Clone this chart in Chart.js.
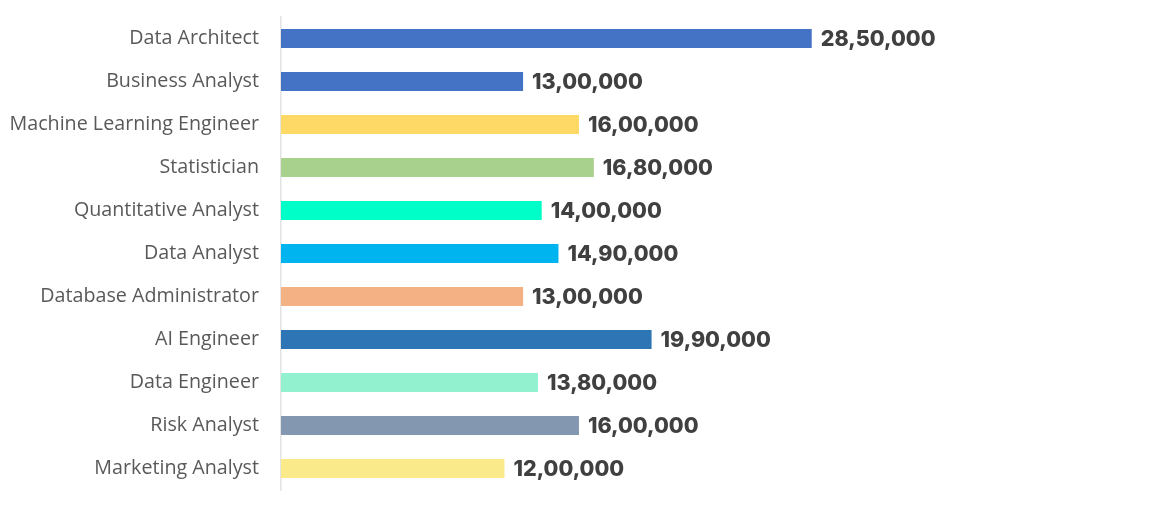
<!DOCTYPE html>
<html>
<head>
<meta charset="utf-8">
<script src="https://cdn.jsdelivr.net/npm/chart.js@4"></script>
<style>
html,body{margin:0;padding:0;background:#fff;}
#wrap{width:1170px;height:508px;position:relative;}
</style>
</head>
<body>
<div id="wrap"><canvas id="c" width="1170" height="508"></canvas></div>
<script>
const categories = ["Data Architect","Business Analyst","Machine Learning Engineer","Statistician","Quantitative Analyst","Data Analyst","Database Administrator","AI Engineer","Data Engineer","Risk Analyst","Marketing Analyst"];
const salaries = [2850000,1300000,1600000,1680000,1400000,1490000,1300000,1990000,1380000,1600000,1200000];
const barColors = ["#4472C4","#4472C4","#FFD966","#A9D18E","#00FFC8","#00B4F0","#F4B183","#2E75B6","#92F2D0","#8497B0","#FAEA8A"];

function indianFormat(n){
  const s = String(Math.round(n));
  if (s.length <= 3) return s;
  const last3 = s.slice(-3);
  let rest = s.slice(0,-3);
  const parts = [];
  while (rest.length > 2){ parts.unshift(rest.slice(-2)); rest = rest.slice(0,-2); }
  if (rest.length) parts.unshift(rest);
  return parts.join(",") + "," + last3;
}

const valueLabels = {
  id:'valueLabels',
  afterDatasetsDraw(chart){
    const ctx = chart.ctx;
    const meta = chart.getDatasetMeta(0);
    ctx.save();
    ctx.font = "800 21.5px Inter, 'Open Sans', sans-serif";
    ctx.fillStyle = "#404040";
    ctx.textAlign = "left";
    ctx.textBaseline = "middle";
    meta.data.forEach((bar,i)=>{
      ctx.fillText(indianFormat(salaries[i]), bar.x + 9, bar.y + 1);
    });
    ctx.restore();
  }
};

new Chart(document.getElementById('c'),{
  type:'bar',
  data:{
    labels:categories,
    datasets:[{
      data:salaries,
      backgroundColor:barColors,
      borderWidth:0,
      categoryPercentage:1,
      barPercentage:0.44
    }]
  },
  options:{
    indexAxis:'y',
    responsive:false,
    animation:false,
    devicePixelRatio:1,
    layout:{padding:{top:17,bottom:18,left:0,right:51}},
    plugins:{legend:{display:false},tooltip:{enabled:false}},
    scales:{
      x:{display:false,min:0,max:4500000},
      y:{
        afterFit(scale){ scale.width = 281; scale.paddingTop = 0; scale.paddingBottom = 0; },
        grid:{display:false,drawTicks:false},
        border:{display:true,color:'#E3E3E3',width:1.5},
        ticks:{
          padding:22,
          color:'#595959',
          font:{family:"'Open Sans', 'Liberation Sans', sans-serif",size:19.7}
        }
      }
    }
  },
  plugins:[valueLabels]
});
</script>
</body>
</html>
